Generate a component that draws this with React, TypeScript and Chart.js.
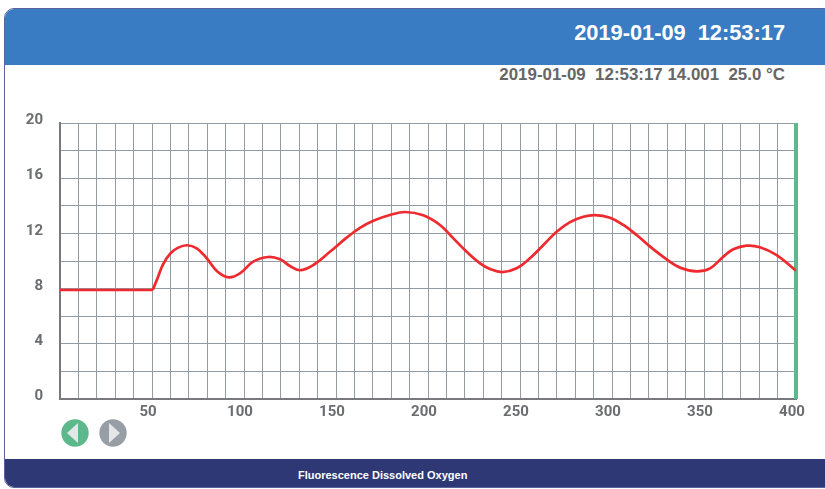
import React, { useEffect, useRef } from "react";
import { Chart, registerables } from "chart.js";

Chart.register(...registerables);

const flatX = [0, 25, 50.4];
const flatY = [7.9, 7.9, 7.9];
const curveX = [50.4, 53, 56, 60, 64, 69, 74.3, 79.7, 85.2, 91.5, 97.8, 105, 113.2, 119.6, 125, 130.4, 137.7, 146.7, 155.8, 163, 170.3, 179.3, 187.5, 197.4, 206.5, 213.8, 221, 228.3, 233.7, 240.4, 248.2, 255.4, 262.7, 269.9, 277.2, 284.4, 290.8, 298.9, 306.2, 313.4, 320.7, 329.7, 337, 346, 353.3, 360.5, 365.9, 373.2, 380.4, 389.5, 400];
const curveY = [7.9, 8.75, 9.75, 10.55, 10.95, 11.14, 10.92, 10.2, 9.28, 8.82, 9.11, 9.95, 10.29, 10.12, 9.64, 9.33, 9.71, 10.67, 11.69, 12.4, 12.92, 13.33, 13.55, 13.31, 12.61, 11.64, 10.67, 9.83, 9.42, 9.2, 9.47, 10.2, 11.16, 12.12, 12.82, 13.21, 13.33, 13.14, 12.61, 11.88, 11.04, 10.12, 9.52, 9.25, 9.47, 10.31, 10.85, 11.11, 11.0, 10.43, 9.3];

const xMax = 400;
const yMax = 20;
const headerTime = "2019-01-09\u00a0\u00a012:53:17";
const readout = "2019-01-09\u00a0\u00a012:53:17 14.001\u00a0\u00a025.0 \u00b0C";
const footer = "Fluorescence Dissolved Oxygen";
const gridColor = "#939ca3";
const fontFamily = "'Liberation Sans', sans-serif";
const tickFont = "Roboto, sans-serif";
const lineColor = "#ee2a2e";

function NavButton({ left, color, dir }: { left: number; color: string; dir: "l" | "r" }) {
  const pts = dir === "l" ? "17,4 17,24 6,14" : "10,4 10,24 21,14";
  return (
    <svg width={28} height={28} style={{ position: "absolute", left, top: 419 }}>
      <circle cx={14} cy={14} r={13.7} fill={color} />
      <polygon points={pts} fill="#e4e6e8" />
    </svg>
  );
}

export default function App() {
  const ref = useRef<HTMLCanvasElement>(null);
  useEffect(() => {
    document.body.style.margin = "0";
    const line = { borderColor: lineColor, borderWidth: 2.7, pointRadius: 0, fill: false };
    const chart = new Chart(ref.current!, {
      type: "line",
      data: {
        datasets: [
          { ...line, data: flatX.map((x, i) => ({ x, y: flatY[i] })), tension: 0 },
          { ...line, data: curveX.map((x, i) => ({ x, y: curveY[i] })), tension: 0.4 },
          {
            data: [
              { x: xMax, y: 0 },
              { x: xMax, y: yMax },
            ],
            borderColor: "#5db88c",
            borderWidth: 4,
            borderCapStyle: "butt",
            pointRadius: 0,
            clip: false,
          },
        ],
      },
      options: {
        animation: false,
        responsive: false,
        layout: { padding: { left: 0, right: 29, top: 123, bottom: 0 } },
        plugins: { legend: { display: false }, tooltip: { enabled: false } },
        scales: {
          x: {
            type: "linear",
            min: 0,
            max: xMax,
            position: "bottom",
            border: { color: "#77797c", width: 2 },
            grid: { color: gridColor, lineWidth: 1, drawTicks: false },
            afterFit: (s: any) => {
              s.height = 489 - 399;
            },
            ticks: {
              stepSize: 10,
              autoSkip: false,
              maxRotation: 0,
              padding: 4,
              labelOffset: -4,
              color: "#6b6d70",
              font: { family: tickFont, size: 15, weight: "bold" },
              callback: (v: any) => (v > 0 && v % 50 === 0 ? String(v) : ""),
            },
          },
          y: {
            min: 0,
            max: yMax,
            border: { color: "#77797c", width: 2 },
            grid: { color: gridColor, lineWidth: 1, drawTicks: false },
            afterFit: (s: any) => {
              s.width = 60;
            },
            ticks: {
              stepSize: 2,
              autoSkip: false,
              padding: 17,
              labelOffset: -2.5,
              color: "#6b6d70",
              font: { family: tickFont, size: 15, weight: "bold" },
              callback: (v: any) => (v % 4 === 0 ? String(v) : ""),
            },
          },
        },
      },
    } as any);
    return () => chart.destroy();
  }, []);

  return (
    <div style={{ position: "relative", width: 825, height: 489, overflow: "hidden", background: "#fff", fontFamily }}>
      <div
        style={{
          position: "absolute",
          left: 4,
          top: 8,
          width: 840,
          height: 480,
          boxSizing: "border-box",
          border: "1px solid #5a639c",
          borderRadius: "10px 0 0 10px",
          overflow: "hidden",
        }}
      >
        <div style={{ position: "absolute", left: 0, top: 0, right: 0, height: 56, background: "#3a7cc3" }} />
        <div style={{ position: "absolute", left: 0, top: 450, right: 0, height: 30, background: "#2e3875" }} />
      </div>
      <div style={{ position: "absolute", right: 40, top: 20, color: "#fff", fontSize: 21.8, fontWeight: 700, whiteSpace: "nowrap" }}>{headerTime}</div>
      <div style={{ position: "absolute", right: 40, top: 65, color: "#666", fontSize: 16.9, fontWeight: 700, whiteSpace: "nowrap" }}>{readout}</div>
      <div style={{ position: "absolute", left: 298, top: 469, color: "#fff", fontSize: 11, fontWeight: 700, whiteSpace: "nowrap" }}>{footer}</div>
      <canvas ref={ref} width={825} height={489} style={{ position: "absolute", left: 0, top: 0 }} />
      <NavButton left={61} color="#5db88c" dir="l" />
      <NavButton left={99} color="#979ea5" dir="r" />
    </div>
  );
}
